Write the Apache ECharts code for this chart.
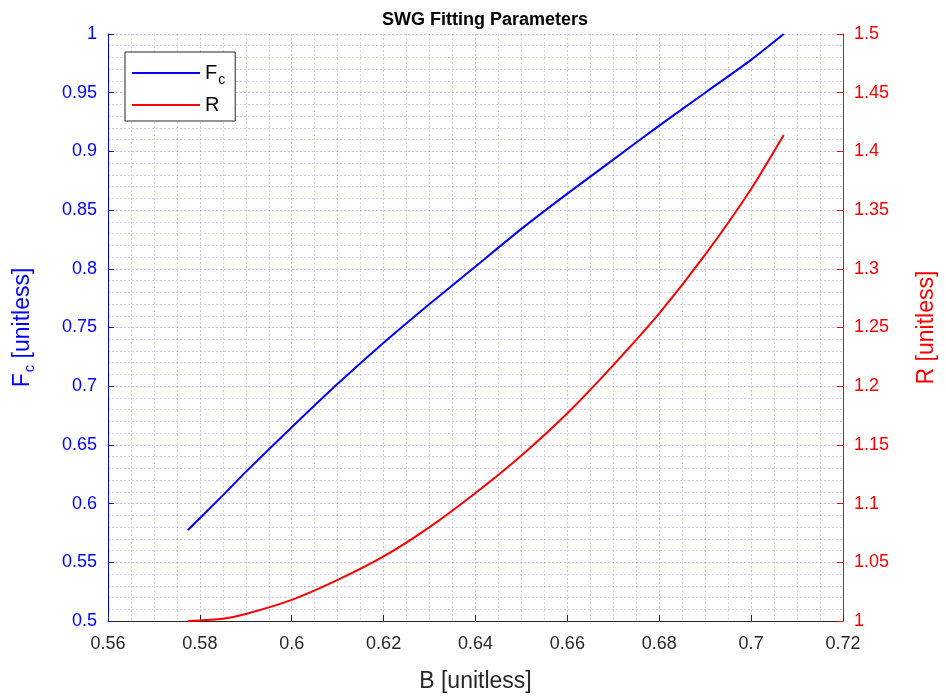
<!DOCTYPE html>
<html>
<head>
<meta charset="utf-8">
<script src="https://cdn.jsdelivr.net/npm/echarts@6/dist/echarts.min.js"></script>
<style>
  html, body { margin: 0; padding: 0; background: #fff; }
  #chart { width: 946px; height: 698px; }
</style>
</head>
<body>
<div id="chart"></div>
<script>
// Sampled fitting parameters against B
const bValues = [0.5774, 0.585, 0.59, 0.60, 0.61, 0.62, 0.63, 0.64, 0.65, 0.66, 0.67, 0.68, 0.69, 0.70, 0.7071];
const fcValues = [0.5775, 0.607, 0.627, 0.665, 0.702, 0.737, 0.770, 0.802, 0.834, 0.864, 0.893, 0.922, 0.950, 0.978, 1.000];
const rValues = [1.000, 1.002, 1.006, 1.018, 1.035, 1.055, 1.080, 1.109, 1.141, 1.177, 1.218, 1.262, 1.312, 1.368, 1.414];

const xTicks = { min: 0.56, max: 0.72, step: 0.02 };
const leftTicks = { min: 0.5, max: 1.0, step: 0.05 };
const rightTicks = { min: 1.0, max: 1.5, step: 0.05 };

const FONT = 'Liberation Sans, Arial, sans-serif';
const BLUE = '#0000ff';
const RED = '#ff0000';
const DARK = '#262626';
const TICK_SIZE = 18;
const NAME_SIZE = 23;

function pairs(xs, ys) { return xs.map((x, i) => [x, ys[i]]); }
function fmt(v) { return String(parseFloat(v.toFixed(3))); }

const chart = echarts.init(document.getElementById('chart'), null, { renderer: 'canvas' });

chart.setOption({
  animation: false,
  backgroundColor: '#ffffff',
  title: {
    text: 'SWG Fitting Parameters',
    left: 480, top: 6, textAlign: 'center',
    textStyle: { fontFamily: FONT, fontSize: 18, fontWeight: 'bold', color: '#000' }
  },
  grid: { left: 108, right: 95, top: 34, bottom: 77, containLabel: false },
  legend: {
    left: 125, top: 52,
    orient: 'vertical',
    backgroundColor: '#fff',
    borderColor: DARK, borderWidth: 1,
    padding: [11, 10, 6, 7],
    itemGap: 8,
    itemWidth: 68, itemHeight: 2,
    icon: 'rect',
    data: ['Fc', 'R'],
    formatter: n => n === 'Fc' ? '{m|F}{s|c}' : '{m|R}',
    textStyle: {
      fontFamily: FONT, color: '#000',
      rich: {
        m: { fontFamily: FONT, fontSize: 20, color: '#000', lineHeight: 21 },
        s: { fontFamily: FONT, fontSize: 14, color: '#000', padding: [14, 0, 0, 1] }
      }
    }
  },
  xAxis: {
    type: 'value',
    min: xTicks.min, max: xTicks.max, interval: xTicks.step,
    name: 'B [unitless]',
    nameLocation: 'middle', nameGap: 49,
    nameTextStyle: { fontFamily: FONT, fontSize: NAME_SIZE, color: DARK },
    axisLine: { show: true, onZero: false, lineStyle: { color: DARK, width: 1 } },
    axisTick: { show: true, inside: true, length: 6, lineStyle: { color: DARK } },
    minorTick: { show: false, splitNumber: 4 },
    axisLabel: { fontFamily: FONT, fontSize: TICK_SIZE, color: DARK, margin: 14, formatter: fmt },
    splitLine: { show: true, lineStyle: { color: 'rgba(120,120,120,0.38)', type: [2, 2], width: 1 } },
    minorSplitLine: { show: true, lineStyle: { color: 'rgba(120,120,120,0.3)', type: [2, 2], width: 1 } }
  },
  yAxis: [
    {
      type: 'value', position: 'left',
      min: leftTicks.min, max: leftTicks.max, interval: leftTicks.step,
      name: '{m|F}{s|c}{m| [unitless]}',
      nameLocation: 'middle', nameGap: 71, nameRotate: 90,
      nameTextStyle: {
        fontFamily: FONT, fontSize: NAME_SIZE, color: BLUE,
        rich: {
          m: { fontFamily: FONT, fontSize: NAME_SIZE, color: BLUE },
          s: { fontFamily: FONT, fontSize: 15, color: BLUE, padding: [14, 0, 0, 1] }
        }
      },
      axisLine: { show: true, lineStyle: { color: BLUE, width: 1 } },
      axisTick: { show: true, inside: true, length: 6, lineStyle: { color: BLUE } },
      axisLabel: { fontFamily: FONT, fontSize: TICK_SIZE, color: BLUE, margin: 11, formatter: fmt },
      minorTick: { show: false, splitNumber: 5 },
      splitLine: { show: true, lineStyle: { color: 'rgba(0,0,255,0.24)', type: [2, 2], width: 1 } },
      minorSplitLine: { show: true, lineStyle: { color: 'rgba(0,0,255,0.2)', type: [2, 2], width: 1 } }
    },
    {
      type: 'value', position: 'right',
      min: rightTicks.min, max: rightTicks.max, interval: rightTicks.step,
      name: 'R [unitless]',
      nameLocation: 'middle', nameGap: 72, nameRotate: 90,
      nameTextStyle: { fontFamily: FONT, fontSize: NAME_SIZE, color: RED },
      axisLine: { show: true, lineStyle: { color: RED, width: 1 } },
      axisTick: { show: true, inside: true, length: 6, lineStyle: { color: RED } },
      axisLabel: { fontFamily: FONT, fontSize: TICK_SIZE, color: RED, margin: 11, formatter: fmt },
      splitLine: { show: false }
    }
  ],
  series: [
    {
      name: 'Fc', type: 'line', yAxisIndex: 0,
      data: pairs(bValues, fcValues),
      smooth: 0.2, showSymbol: false,
      lineStyle: { color: BLUE, width: 2 }, itemStyle: { color: BLUE }
    },
    {
      name: 'R', type: 'line', yAxisIndex: 1,
      data: pairs(bValues, rValues),
      smooth: 0.2, showSymbol: false,
      lineStyle: { color: RED, width: 2 }, itemStyle: { color: RED }
    }
  ]
});
</script>
</body>
</html>
